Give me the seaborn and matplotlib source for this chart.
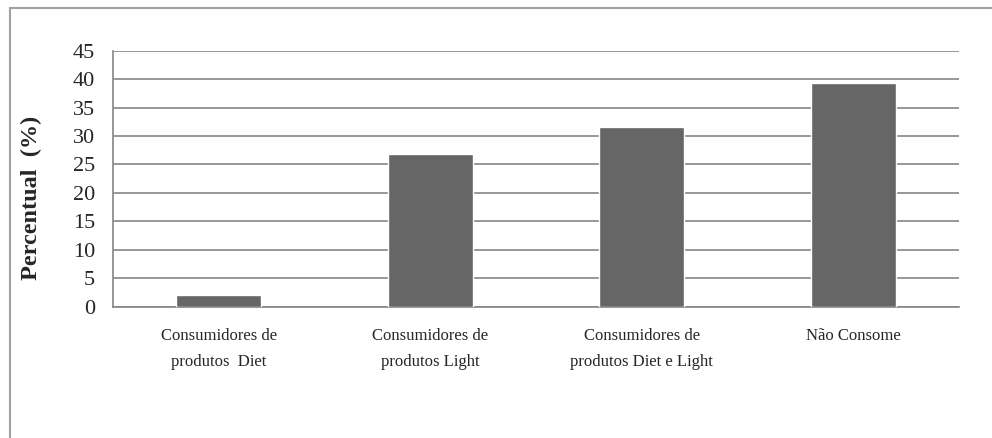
import matplotlib
matplotlib.use("Agg")
import matplotlib.pyplot as plt
import seaborn as sns
from matplotlib.lines import Line2D

categories = [
    "Consumidores de\nprodutos  Diet",
    "Consumidores de\nprodutos Light",
    "Consumidores de\nprodutos Diet e Light",
    "Não Consome",
]
percentual = [2.1, 26.8, 31.6, 39.4]
y_ticks = [0, 5, 10, 15, 20, 25, 30, 35, 40, 45]

sns.set_style("white")
plt.rcParams["font.family"] = ["Liberation Serif", "DejaVu Serif"]

fig = plt.figure(figsize=(9.92, 4.38), dpi=100)
ax = fig.add_axes([0.1139, 0.2998, 0.8528, 0.5845])

sns.barplot(x=categories, y=percentual, color="#666666", saturation=1,
            width=0.4, ax=ax, zorder=3)

ax.set_xlim(-0.5, len(categories) - 0.5)
ax.set_ylim(0, 45)
ax.set_yticks(y_ticks)
ax.yaxis.grid(True, color="#858585", linewidth=1.2, zorder=0)
ax.set_axisbelow(True)

for side in ("top", "right"):
    ax.spines[side].set_visible(False)
for side in ("left", "bottom"):
    ax.spines[side].set_color("#858585")
    ax.spines[side].set_linewidth(1.2)

ax.tick_params(axis="y", which="major", direction="out", length=5,
               width=1, color="#858585", labelsize=16, pad=8)
ax.tick_params(axis="x", which="major", length=0, labelsize=12, pad=15)
ax.set_xticks([i - 0.5 for i in range(len(categories) + 1)], minor=True)
ax.tick_params(axis="x", which="minor", direction="out", length=5,
               width=1, color="#858585")
for lbl in ax.get_xticklabels():
    lbl.set_linespacing(1.85)

ax.set_xlabel("")
ax.set_ylabel("Percentual  (%)", fontsize=17.5, fontweight="bold")
ax.yaxis.set_label_coords(-0.084, 0.425)

# outer frame of the chart area
fig.add_artist(Line2D([10 / 992, 1.0], [1 - 8 / 438, 1 - 8 / 438],
                      transform=fig.transFigure, color="#a0a0a0", lw=1.5))
fig.add_artist(Line2D([10 / 992, 10 / 992], [0, 1 - 8 / 438],
                      transform=fig.transFigure, color="#a0a0a0", lw=1.5))

fig.savefig("out.png", dpi=100)
